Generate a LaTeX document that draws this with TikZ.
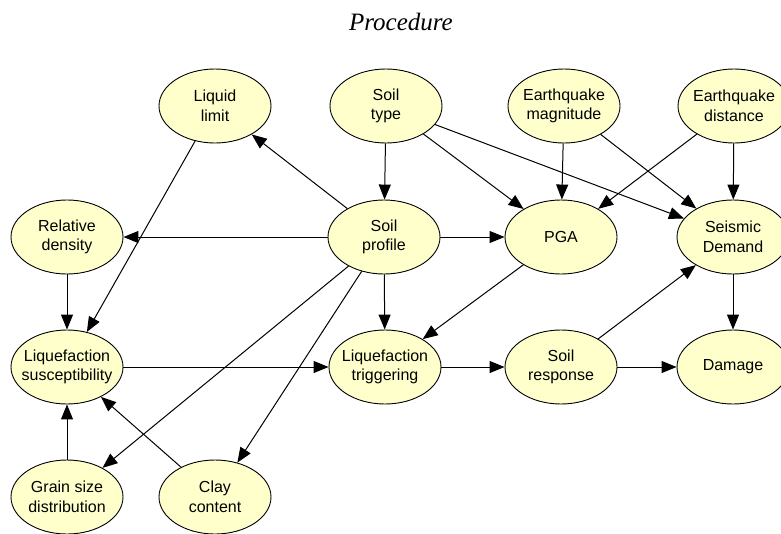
\documentclass[tikz,border=0pt]{standalone}
\usepackage{fontspec}
\setmainfont{Liberation Sans}
\newfontfamily\titlefont{Liberation Serif}
\usepackage{xcolor}
\usepackage{tikz}
\usetikzlibrary{shapes.geometric, arrows.meta}
\definecolor{nodefill}{RGB}{255,255,204}

\begin{document}
\begin{tikzpicture}[x=1pt, y=-1pt,
  v/.style={ellipse, draw, fill=nodefill, line width=0.9pt, minimum width=112pt, minimum height=74pt,
    inner xsep=-14pt, inner ysep=0pt, align=center, font=\fontsize{16}{19.5}\selectfont},
  arr/.style={-{Triangle[length=15pt, width=12pt]}, line width=1pt}]
  \useasboundingbox (0,0) rectangle (781,533);
  \node[anchor=base, font=\titlefont\itshape\fontsize{25}{30}\selectfont] (title) at (401,30) {Procedure};
  % top row
  \node[v] (liquid) at (215,106) {Liquid\\limit};
  \node[v] (soiltype) at (386,106) {Soil\\type};
  \node[v] (magnitude) at (564,106) {Earthquake\\magnitude};
  \node[v] (distance) at (734,106) {Earthquake\\distance};
  % second row
  \node[v] (reldens) at (67,237) {Relative\\density};
  \node[v] (profile) at (384,237) {Soil\\profile};
  \node[v] (pga) at (561,237) {PGA};
  \node[v] (demand) at (733,237) {Seismic\\Demand};
  % third row
  \node[v] (susc) at (67,367) {Liquefaction\\susceptibility};
  \node[v] (trig) at (385,367) {Liquefaction\\triggering};
  \node[v] (response) at (561,367) {Soil\\response};
  \node[v] (damage) at (733,367) {Damage};
  % bottom row
  \node[v] (grain) at (67,497) {Grain size\\distribution};
  \node[v] (clay) at (215,497) {Clay\\content};
  % links
  \draw[arr] (soiltype)--(profile);
  \draw[arr] (soiltype)--(pga);
  \draw[arr] (soiltype)--(demand);
  \draw[arr] (magnitude)--(pga);
  \draw[arr] (magnitude)--(demand);
  \draw[arr] (distance)--(pga);
  \draw[arr] (distance)--(demand);
  \draw[arr] (profile)--(liquid);
  \draw[arr] (liquid)--(susc);
  \draw[arr] (profile)--(reldens);
  \draw[arr] (profile)--(pga);
  \draw[arr] (profile)--(trig);
  \draw[arr] (profile)--(grain);
  \draw[arr] (profile)--(clay);
  \draw[arr] (reldens)--(susc);
  \draw[arr] (susc)--(trig);
  \draw[arr] (pga)--(trig);
  \draw[arr] (trig)--(response);
  \draw[arr] (response)--(damage);
  \draw[arr] (response)--(demand);
  \draw[arr] (demand)--(damage);
  \draw[arr] (grain)--(susc);
  \draw[arr] (clay)--(susc);
\end{tikzpicture}
\end{document}
